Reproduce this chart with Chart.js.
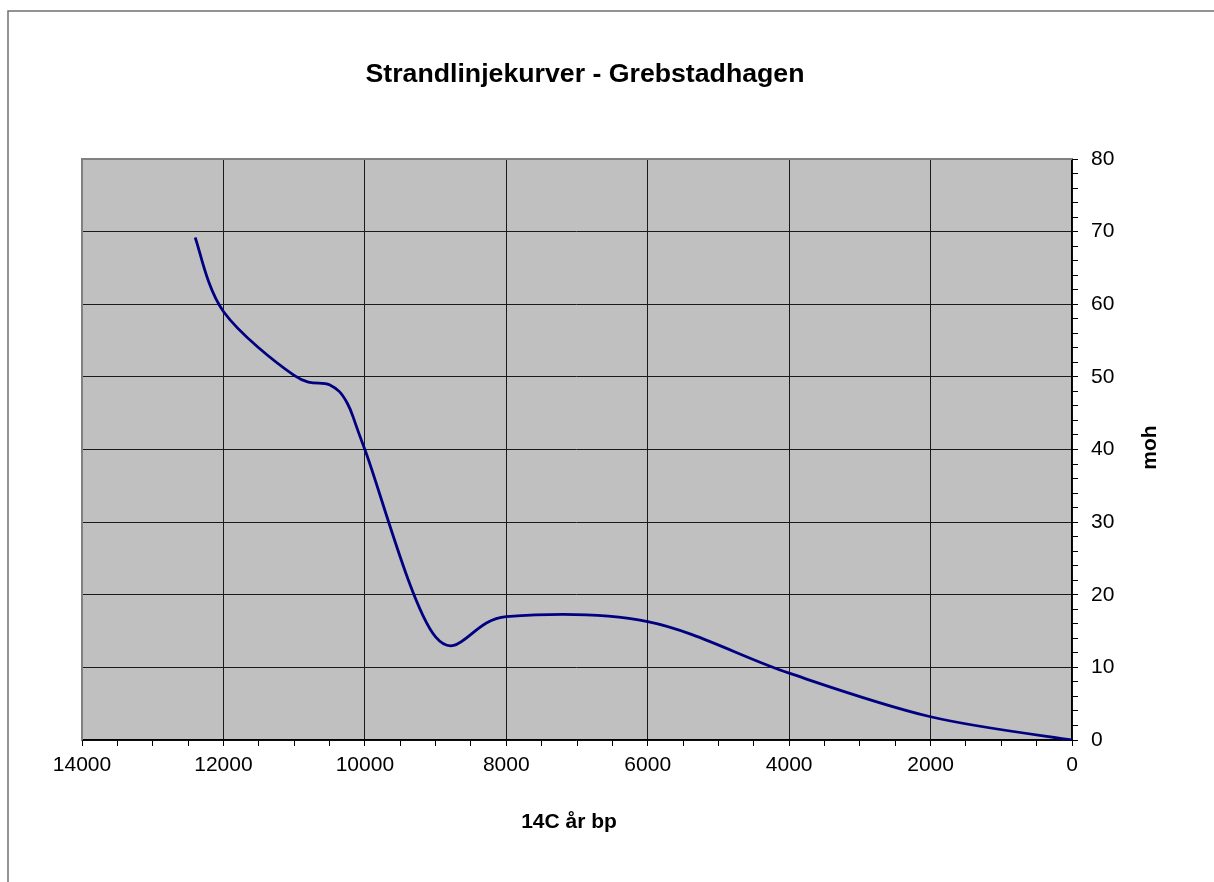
<!DOCTYPE html>
<html>
<head>
<meta charset="utf-8">
<title>Strandlinjekurver - Grebstadhagen</title>
<script src="https://cdn.jsdelivr.net/npm/chart.js@4/dist/chart.umd.min.js"></script>
<style>
    html, body { margin: 0; padding: 0; background: #fff; }
    #wrap { width: 1214px; height: 882px; }
</style>
</head>
<body>
<div id="wrap"><canvas id="shoreChart" width="1214" height="882"></canvas></div>
<script>
// Shoreline curve (14C years bp -> metres above sea level)
const years = [12400, 12000, 11000, 10500, 10250, 10000, 9000, 8000, 6000, 4000, 2000, 0];
const heights = [69.2, 59, 50.2, 48.9, 46.4, 40, 14.2, 17, 16.3, 9.2, 3.2, 0];

const chartTitle = 'Strandlinjekurver - Grebstadhagen';
const xTitle = '14C år bp';
const yTitle = 'moh';

const FONT = "'Liberation Sans', Arial, sans-serif";

// Grey plot background + grey plot border (top/left), drawn under the line
const plotArea = {
    id: 'plotArea',
    beforeDraw(chart) {
        const { ctx, chartArea: a } = chart;
        ctx.save();
        ctx.fillStyle = '#c0c0c0';
        ctx.fillRect(a.left, a.top, a.width, a.height);
        ctx.restore();
    },
    beforeDatasetsDraw(chart) {
        const { ctx, chartArea: a } = chart;
        ctx.save();
        ctx.strokeStyle = '#808080';
        ctx.lineWidth = 2;
        ctx.beginPath();
        ctx.moveTo(a.left, a.bottom);
        ctx.lineTo(a.left, a.top);
        ctx.lineTo(a.right, a.top);
        ctx.stroke();
        ctx.restore();
    }
};

// Excel-style smoothing: uniform Catmull-Rom control points (1/6 of neighbour span),
// computed from the point pixels that Chart.js placed on its scales
const excelSmooth = {
    id: 'excelSmooth',
    beforeDatasetDraw(chart, args) {
        const meta = args.meta;
        meta.dataset.updateControlPoints(chart.chartArea, meta.iScale.axis);
        const pts = meta.data;
        const n = pts.length;
        for (let i = 0; i < n; i++) {
            const prev = pts[Math.max(i - 1, 0)];
            const next = pts[Math.min(i + 1, n - 1)];
            const dx = (next.x - prev.x) / 6;
            const dy = (next.y - prev.y) / 6;
            pts[i].cp1x = pts[i].x - dx;
            pts[i].cp1y = pts[i].y - dy;
            pts[i].cp2x = pts[i].x + dx;
            pts[i].cp2y = pts[i].y + dy;
        }
        meta.dataset._path = undefined;
    }
};

// Title, axis titles and the outer frame of the chart object
const labels = {
    id: 'labels',
    afterDraw(chart) {
        const { ctx, chartArea: a } = chart;
        ctx.save();
        ctx.strokeStyle = '#707070';
        ctx.lineWidth = 1.5;
        ctx.strokeRect(8, 11, 1400, 1000);

        ctx.fillStyle = '#000';
        ctx.textAlign = 'center';
        ctx.textBaseline = 'middle';
        ctx.font = `bold 26.7px ${FONT}`;
        ctx.fillText(chartTitle, 585, 75);

        ctx.font = `bold 21px ${FONT}`;
        ctx.fillText(xTitle, (a.left + a.right) / 2 - 8, 822);

        ctx.translate(1150, (a.top + a.bottom) / 2 - 2);
        ctx.rotate(-Math.PI / 2);
        ctx.fillText(yTitle, 0, 0);
        ctx.restore();
    }
};

const ctx = document.getElementById('shoreChart').getContext('2d');
Chart.defaults.font.family = FONT;
Chart.defaults.color = '#000';

new Chart(ctx, {
    type: 'line',
    data: {
        datasets: [{
            data: years.map((y, i) => ({ x: y, y: heights[i] })),
            borderColor: '#000080',
            borderWidth: 2.8,
            pointRadius: 0,
            tension: 0.3,
            fill: false
        }]
    },
    options: {
        responsive: false,
        animation: false,
        layout: { padding: { top: 159, left: 82, right: 0, bottom: 0 } },
        plugins: {
            legend: { display: false },
            tooltip: { enabled: false }
        },
        scales: {
            x: {
                type: 'linear',
                reverse: true,
                min: 0,
                max: 14000,
                afterFit: s => { s.height = 142; },
                border: { display: true, color: '#000', width: 1.5 },
                grid: {
                    color: c => (c.tick && c.tick.value % 2000 === 0) ? '#1a1a1a' : 'transparent',
                    tickColor: '#000',
                    tickLength: 6
                },
                ticks: {
                    stepSize: 500,
                    maxTicksLimit: 100,
                    autoSkip: false,
                    maxRotation: 0,
                    padding: 7,
                    font: { size: 21 },
                    callback: v => (v % 2000 === 0 ? String(v) : '')
                }
            },
            y: {
                position: 'right',
                min: 0,
                max: 80,
                afterFit: s => { s.width = 142; },
                border: { display: true, color: '#000', width: 1.5 },
                grid: {
                    color: c => (c.tick && c.tick.value % 10 === 0) ? '#1a1a1a' : 'transparent',
                    tickColor: '#000',
                    tickLength: 6
                },
                ticks: {
                    stepSize: 2,
                    maxTicksLimit: 100,
                    autoSkip: false,
                    padding: 13,
                    font: { size: 21 },
                    callback: v => (v % 10 === 0 ? String(v) : '')
                }
            }
        }
    },
    plugins: [plotArea, excelSmooth, labels]
});
</script>
</body>
</html>
